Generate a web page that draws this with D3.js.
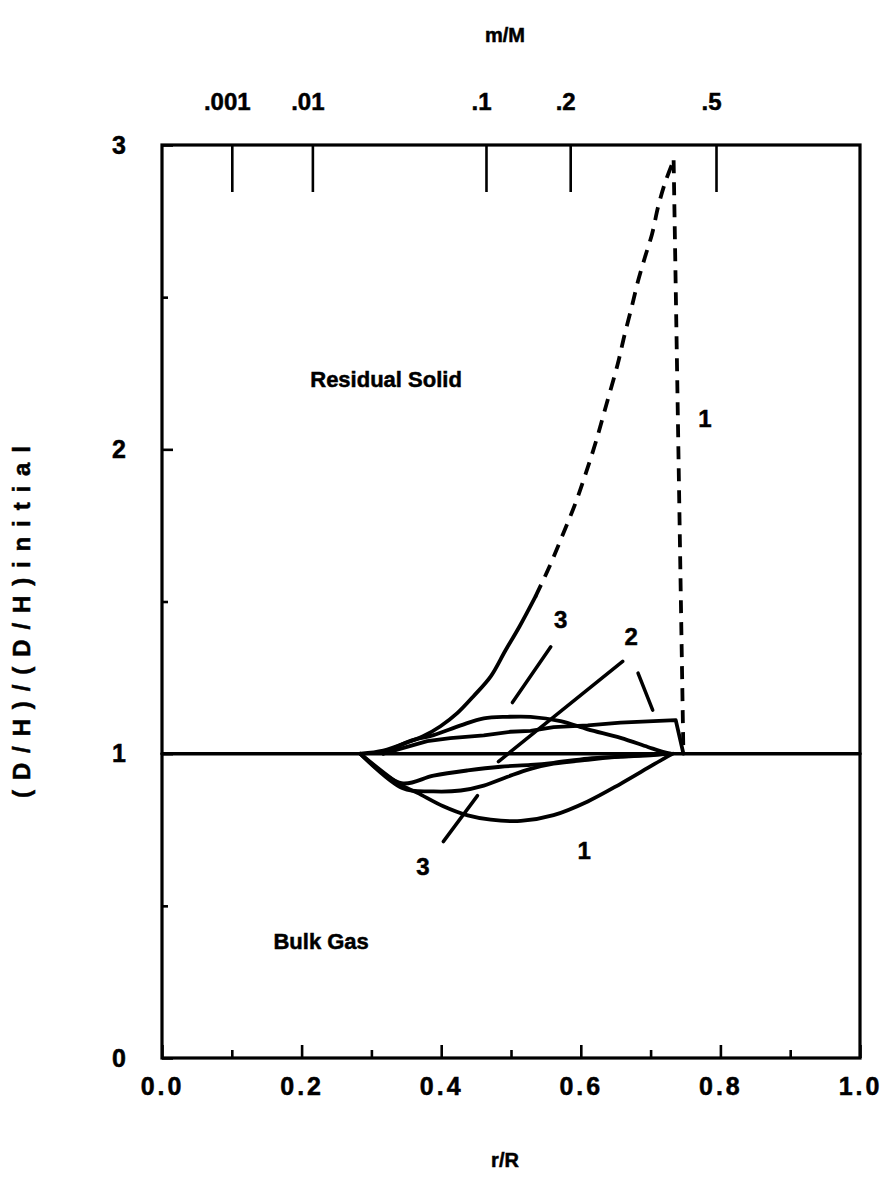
<!DOCTYPE html>
<html>
<head>
<meta charset="utf-8">
<script src="https://cdn.jsdelivr.net/npm/d3@7"></script>
<style>
  html, body { margin: 0; padding: 0; background: #fff; }
  svg { display: block; }
  text { font-family: "Liberation Sans", Arial, Helvetica, sans-serif; font-weight: bold; fill: #000;
         stroke: #000; stroke-width: 0.5px; }
</style>
</head>
<body>
<svg id="chart" width="895" height="1177"></svg>
<script>
// ---- data: (r/R, (D/H)/(D/H)initial) pairs ----
// residual solid, case 1: solid lower stretch, dashed rise, dashed drop back to 1
const solid1Lower = [[0.285,1.0],[0.317,1.010],[0.356,1.041],[0.374,1.057],[0.399,1.090],[0.423,1.133],
  [0.446,1.188],[0.471,1.254],[0.492,1.339],[0.512,1.417],[0.535,1.516]];
const solid1Dashed = [[0.535,1.516],[0.555,1.614],[0.573,1.713],[0.592,1.821],[0.607,1.920],[0.622,2.028],
  [0.637,2.150],[0.653,2.281],[0.663,2.379],[0.673,2.468],[0.682,2.553],[0.692,2.632],[0.702,2.707],
  [0.711,2.799],[0.721,2.878],[0.733,2.950]];
const solid1Drop = [[0.733,2.950],[0.747,1.0]];
// residual solid, cases 2 and 3
const solid2 = [[0.317,1.0],[0.380,1.041],[0.413,1.051],[0.461,1.060],[0.499,1.072],[0.528,1.075],
  [0.561,1.087],[0.610,1.093],[0.657,1.102],[0.704,1.107],[0.736,1.110],[0.747,1.0]];
const solid3 = [[0.317,1.0],[0.356,1.042],[0.389,1.061],[0.428,1.093],[0.461,1.116],[0.495,1.121],
  [0.528,1.121],[0.571,1.107],[0.610,1.080],[0.657,1.052],[0.696,1.022],[0.719,1.005],[0.729,1.0]];
// bulk gas, cases 1-3
const gas1 = [[0.284,1.0],[0.341,0.899],[0.366,0.871],[0.403,0.827],[0.438,0.797],[0.471,0.783],
  [0.514,0.779],[0.561,0.798],[0.610,0.843],[0.657,0.901],[0.696,0.953],[0.719,0.984],[0.732,1.0]];
const gas2 = [[0.284,1.0],[0.343,0.903],[0.389,0.928],[0.438,0.945],[0.485,0.957],[0.528,0.963],
  [0.561,0.970],[0.610,0.984],[0.657,0.990],[0.704,0.995],[0.724,1.0]];
const gas3 = [[0.284,1.0],[0.345,0.886],[0.389,0.876],[0.428,0.879],[0.461,0.895],
  [0.495,0.924],[0.528,0.950],[0.561,0.967],[0.610,0.980],[0.657,0.990],[0.724,1.0]];
// baseline (no fractionation)
const baseline = [[0,1],[1,1]];

// leader lines from curve numbers
const leaders = [
  [[0.557,1.351],[0.502,1.168]],   // 3, upper
  [[0.660,1.303],[0.482,0.974]],   // 2, lower
  [[0.682,1.265],[0.703,1.143]],   // 2, upper
  [[0.452,0.862],[0.403,0.711]]    // 3, lower
];
const curveLabels = [
  {text:"1", r:0.778, v:2.10},
  {text:"3", r:0.571, v:1.44},
  {text:"2", r:0.672, v:1.385},
  {text:"3", r:0.374, v:0.63},
  {text:"1", r:0.605, v:0.68}
];
const regionLabels = [
  {text:"Residual Solid", r:0.321, v:2.23},
  {text:"Bulk Gas", r:0.228, v:0.385}
];

// axis ticks
const xTicks = [0, 0.2, 0.4, 0.6, 0.8, 1.0];
const xMinorTicks = [0.1, 0.3, 0.5, 0.7, 0.9];
const yTicks = [0, 1, 2, 3];
const yMinorTicks = [0.5, 1.5, 2.5];
const massTicks = [0.001, 0.01, 0.1, 0.2, 0.5];
const massLabels = [".001", ".01", ".1", ".2", ".5"];

// ---- drawing ----
const svg = d3.select("#chart");
const plotL = 162, plotR = 860, plotT = 145, plotB = 1058;

const x = d3.scaleLinear().domain([0, 1]).range([plotL, plotR]);
const y = d3.scaleLinear().domain([0, 3]).range([plotB, plotT]);
// m/M = (r/R)^3, so the mass axis is a cube-root scale
const m = d3.scalePow().exponent(1 / 3).domain([0, 1]).range([plotL, plotR]);

const line = d3.line().x(d => x(d[0])).y(d => y(d[1]));
const smooth = d3.line().x(d => x(d[0])).y(d => y(d[1])).curve(d3.curveCatmullRom.alpha(0.5));

// frame
svg.append("rect")
  .attr("x", plotL).attr("y", plotT)
  .attr("width", plotR - plotL).attr("height", plotB - plotT)
  .attr("fill", "none").attr("stroke", "#000").attr("stroke-width", 3.2);

function styleAxis(g, fontSize) {
  g.select(".domain").remove();
  g.selectAll(".tick line").attr("stroke", "#000").attr("stroke-width", 2.6);
  g.selectAll(".tick text").attr("font-size", fontSize)
    .style("font-family", '"Liberation Sans", Arial, sans-serif').style("font-weight", "bold");
}

// bottom axis
svg.append("g").attr("transform", `translate(0,${plotB})`)
  .call(d3.axisBottom(x).tickValues(xTicks).tickFormat(d3.format(".1f"))
    .tickSizeInner(-13).tickSizeOuter(0).tickPadding(19))
  .call(g => styleAxis(g, 25))
  .call(g => g.selectAll(".tick text").attr("letter-spacing", 3));
svg.append("g").attr("transform", `translate(0,${plotB})`)
  .call(d3.axisBottom(x).tickValues(xMinorTicks).tickFormat("").tickSizeInner(-8).tickSizeOuter(0))
  .call(g => styleAxis(g, 0));

// left axis
svg.append("g").attr("transform", `translate(${plotL},0)`)
  .call(d3.axisLeft(y).tickValues(yTicks).tickFormat(d3.format("d"))
    .tickSizeInner(-11).tickSizeOuter(0).tickPadding(36))
  .call(g => styleAxis(g, 25));
svg.append("g").attr("transform", `translate(${plotL},0)`)
  .call(d3.axisLeft(y).tickValues(yMinorTicks).tickFormat("").tickSizeInner(-6).tickSizeOuter(0))
  .call(g => styleAxis(g, 0));

// top mass-fraction axis, ticks hanging into the plot
svg.append("g").attr("transform", `translate(0,${plotT})`)
  .call(d3.axisTop(m).tickValues(massTicks).tickFormat((d, i) => massLabels[i])
    .tickSizeInner(-47).tickSizeOuter(0).tickPadding(35))
  .call(g => styleAxis(g, 24))
  .call(g => g.selectAll(".tick text").attr("dx", -5));

// axis titles
svg.append("text").attr("x", 505).attr("y", 42).attr("text-anchor", "middle")
  .attr("font-size", 20).text("m/M");
svg.append("text").attr("x", 505).attr("y", 1167).attr("text-anchor", "middle")
  .attr("font-size", 20).text("r/R");
svg.append("text")
  .attr("transform", "translate(30,622) rotate(-90)")
  .attr("text-anchor", "middle").attr("font-size", 24)
  .attr("textLength", 352).attr("lengthAdjust", "spacing")
  .text("(D/H)/(D/H)initial");

// curves
const curves = svg.append("g").attr("fill", "none").attr("stroke", "#000")
  .attr("stroke-linecap", "round").attr("stroke-linejoin", "round");

curves.append("path").datum(baseline).attr("d", line).attr("stroke-width", 3.5);
curves.append("path").datum(solid1Lower).attr("d", smooth).attr("stroke-width", 3.8);
curves.append("path").datum(solid1Dashed).attr("d", smooth).attr("stroke-width", 3.8)
  .attr("stroke-dasharray", "13,9").attr("stroke-linecap", "butt");
curves.append("path").datum(solid1Drop).attr("d", line).attr("stroke-width", 3.8)
  .attr("stroke-dasharray", "13,9").attr("stroke-linecap", "butt");
curves.append("path").datum(solid2).attr("d", line).attr("stroke-width", 3.8);
curves.append("path").datum(solid3).attr("d", smooth).attr("stroke-width", 3.8);
curves.append("path").datum(gas1).attr("d", smooth).attr("stroke-width", 3.8);
curves.append("path").datum(gas2).attr("d", smooth).attr("stroke-width", 3.8);
curves.append("path").datum(gas3).attr("d", smooth).attr("stroke-width", 3.8);

// leaders
curves.selectAll(".leader").data(leaders).join("path")
  .attr("class", "leader").attr("d", line).attr("stroke-width", 3.5);

// curve numbers
svg.selectAll(".cnum").data(curveLabels).join("text")
  .attr("class", "cnum")
  .attr("x", d => x(d.r)).attr("y", d => y(d.v))
  .attr("text-anchor", "middle").attr("dy", "0.35em")
  .attr("font-size", 24).text(d => d.text);

// region names
svg.selectAll(".region").data(regionLabels).join("text")
  .attr("class", "region")
  .attr("x", d => x(d.r)).attr("y", d => y(d.v))
  .attr("text-anchor", "middle").attr("dy", "0.35em")
  .attr("font-size", 22).text(d => d.text);
</script>
</body>
</html>
